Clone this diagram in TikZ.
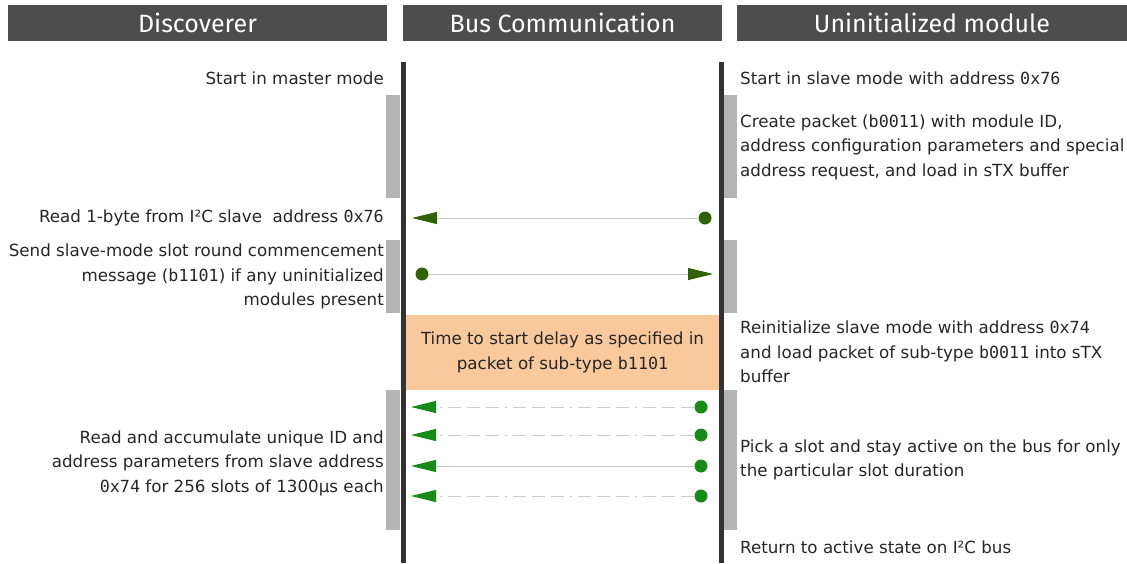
\documentclass[tikz,border=0pt]{standalone}
\usepackage{fontspec}
\setmainfont{DejaVu Sans}
\newfontfamily\hdrfont{Fira Sans}
\newfontfamily\codefont{DejaVu Sans Mono}[Scale=1.0]
\usetikzlibrary{arrows.meta}

\definecolor{hdrgray}{HTML}{4D4D4D}
\definecolor{lifeline}{HTML}{333333}
\definecolor{actbar}{HTML}{B4B4B4}
\definecolor{delayfill}{HTML}{F9C99C}
\definecolor{olivegreen}{HTML}{2F6306}
\definecolor{slotgreen}{HTML}{178A17}
\definecolor{wire}{HTML}{CCCCCC}
\definecolor{txt}{HTML}{262626}

\newcommand\code[1]{{\codefont #1}}

\begin{document}
\begin{tikzpicture}[x=1pt,y=-1pt,
  header/.style={fill=hdrgray, text=white, inner sep=0pt, minimum height=36pt,
    font=\hdrfont\fontsize{25}{30}\selectfont},
  body/.style={text=txt, inner sep=0pt, font=\fontsize{16.7}{24.5}\selectfont},
  lefttext/.style={body, anchor=east, align=right},
  righttext/.style={body, anchor=west, align=left},
  lifeline/.style={draw=lifeline, line width=5pt},
  actbar/.style={fill=actbar},
  dotolive/.style={circle, fill=olivegreen, minimum size=13pt, inner sep=0pt},
  dotgreen/.style={circle, fill=slotgreen, minimum size=13pt, inner sep=0pt},
  msg/.style={draw=wire, line width=0.9pt},
  slotdash/.style={msg, dash pattern=on 13pt off 6pt on 13pt off 6pt on 13pt off 6pt on 2pt off 6pt},
  tipolive/.style={-{Triangle[length=25pt,width=12pt,color=olivegreen]}},
  tipgreen/.style={-{Triangle[length=25pt,width=12pt,color=slotgreen]}}]
\useasboundingbox (0,0) rectangle (1127,563);

% column headers
\node[header, minimum width=379pt] (hdisc) at (197.5,23) {Discoverer};
\node[header, minimum width=319pt] (hbus)  at (562.5,23) {Bus Communication};
\node[header, minimum width=390pt] (hmod)  at (932,23)   {Uninitialized module};

% activation bars
\fill[actbar] (386,95) rectangle (400,198);
\fill[actbar] (386,240) rectangle (400,313);
\fill[actbar] (386,390) rectangle (400,530);
\fill[actbar] (724,95) rectangle (737,198);
\fill[actbar] (724,240) rectangle (737,313);
\fill[actbar] (724,390) rectangle (737,530);

% delay block
\node[fill=delayfill, minimum width=313pt, minimum height=75pt, inner sep=0pt,
  body, align=center] (delay) at (562.5,352.5)
  {Time to start delay as specified in\\packet of sub-type \code{b1101}};

% lifelines
\coordinate (ltop) at (403.5,62);
\coordinate (lbot) at (403.5,563);
\coordinate (rtop) at (721.5,62);
\coordinate (rbot) at (721.5,563);
\draw[lifeline] (ltop) -- (lbot);
\draw[lifeline] (rtop) -- (rbot);

% discoverer steps
\node[lefttext] (d1) at (384,78) {Start in master mode};
\node[lefttext] (d2) at (384,218) {Read 1-byte from I²C slave\ \ address \code{0x76}};
\node[lefttext] (d3) at (384,276.5) {Send slave-mode slot round commencement\\message (\code{b1101}) if any uninitialized\\modules present};
\node[lefttext] (d4) at (384,463) {Read and accumulate unique ID and\\address parameters from slave address\\\code{0x74} for 256 slots of 1300µs each};

% module steps
\node[righttext] (m1) at (740,78) {Start in slave mode with address \code{0x76}};
\node[righttext] (m2) at (740,147) {Create packet (\code{b0011}) with module ID,\\address configuration parameters and special\\address request, and load in sTX buffer};
\node[righttext] (m3) at (740,352) {Reinitialize slave mode with address \code{0x74}\\and load packet of sub-type \code{b0011} into sTX\\buffer};
\node[righttext] (m4) at (740,460) {Pick a slot and stay active on the bus for only\\the particular slot duration};
\node[righttext] (m5) at (740,547) {Return to active state on I²C bus};

% bus messages
\node[dotolive] (p1) at (705,218) {};
\coordinate (q1) at (412,218);
\draw[msg, tipolive] (p1) -- (q1);

\node[dotolive] (p2) at (422,274) {};
\coordinate (q2) at (713,274);
\draw[msg, tipolive] (p2) -- (q2);

\node[dotgreen] (s1) at (701,407) {};
\coordinate (t1) at (411,407);
\draw[slotdash, tipgreen] (s1) -- (t1);

\node[dotgreen] (s2) at (701,435) {};
\coordinate (t2) at (411,435);
\draw[slotdash, tipgreen] (s2) -- (t2);

\node[dotgreen] (s3) at (701,466) {};
\coordinate (t3) at (411,466);
\draw[msg, tipgreen] (s3) -- (t3);

\node[dotgreen] (s4) at (701,496) {};
\coordinate (t4) at (411,496);
\draw[slotdash, tipgreen] (s4) -- (t4);
\end{tikzpicture}
\end{document}
